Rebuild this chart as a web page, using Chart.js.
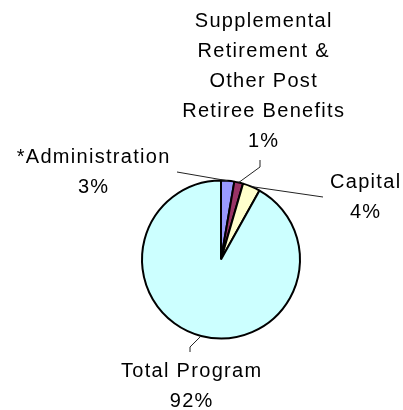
<!DOCTYPE html>
<html>
<head>
<meta charset="utf-8">
<script src="https://cdn.jsdelivr.net/npm/chart.js@4/dist/chart.umd.min.js"></script>
<style>
  html, body { margin: 0; padding: 0; background: #fff; }
  canvas { display: block; }
</style>
</head>
<body>
<canvas id="grafico" width="403" height="410"></canvas>
<script>
// dati del grafico
const categorie = [
  ["*Administration"],
  ["Supplemental", "Retirement &", "Other Post", "Retiree Benefits"],
  ["Capital"],
  ["Total Program"]
];
const valori = [2.7, 1.8, 3.6, 91.9];
const percentuali = ["3%", "1%", "4%", "92%"];
const colori = ["#9999ff", "#993366", "#ffffcc", "#ccffff"];

// posizione etichette: centro x, baseline prima riga, punti della linea guida
const posEtichette = [
  { x: 93,  y: 163, guida: [[177, 172]] },
  { x: 263, y: 27,  guida: [[260, 160], [260, 167]] },
  { x: 365, y: 188, guida: [[323, 197]] },
  { x: 191, y: 377, guida: [[190, 352], [190, 347]] }
];
const interlinea = 30;

const etichettePlugin = {
  id: "etichette",
  afterDraw(chart) {
    const ctx = chart.ctx;
    const meta = chart.getDatasetMeta(0);
    ctx.save();
    // linee guida
    ctx.strokeStyle = "#222";
    ctx.lineWidth = 1;
    meta.data.forEach((arc, i) => {
      const p = arc.getProps(["x", "y", "startAngle", "endAngle", "outerRadius"], true);
      const a = (p.startAngle + p.endAngle) / 2;
      const ex = p.x + Math.cos(a) * p.outerRadius;
      const ey = p.y + Math.sin(a) * p.outerRadius;
      const g = posEtichette[i].guida;
      ctx.beginPath();
      ctx.moveTo(g[0][0], g[0][1]);
      for (let k = 1; k < g.length; k++) ctx.lineTo(g[k][0], g[k][1]);
      ctx.lineTo(ex, ey);
      ctx.stroke();
    });
    // testo
    ctx.fillStyle = "#000";
    ctx.font = "20px 'Liberation Sans', Arial, sans-serif";
    ctx.textAlign = "center";
    ctx.textBaseline = "alphabetic";
    ctx.letterSpacing = "1.3px";
    categorie.forEach((righe, i) => {
      const pos = posEtichette[i];
      const tutte = righe.concat([percentuali[i]]);
      tutte.forEach((t, k) => ctx.fillText(t, pos.x + 0.7, pos.y + k * interlinea));
    });
    ctx.restore();
  }
};

new Chart(document.getElementById("grafico"), {
  type: "pie",
  data: {
    labels: categorie,
    datasets: [{
      data: valori,
      backgroundColor: colori,
      borderColor: "#000",
      borderWidth: 2
    }]
  },
  options: {
    responsive: false,
    animation: false,
    layout: { padding: { left: 141, top: 179.5, right: 102, bottom: 70.5 } },
    plugins: {
      legend: { display: false },
      tooltip: { enabled: false }
    }
  },
  plugins: [etichettePlugin]
});
</script>
</body>
</html>
